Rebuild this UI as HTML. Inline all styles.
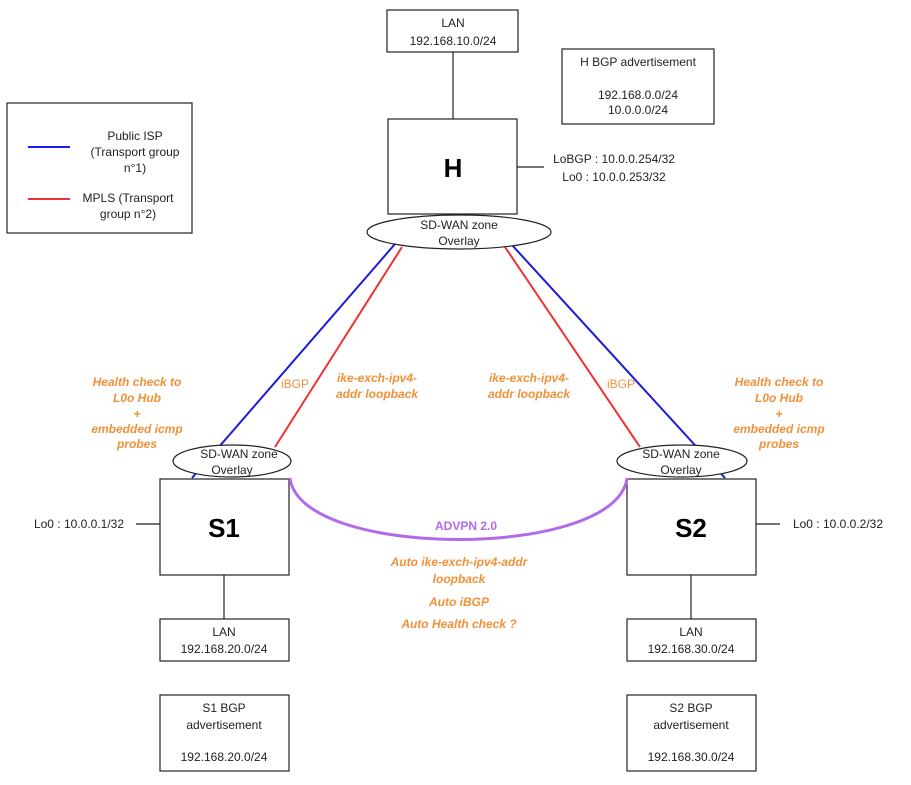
<!DOCTYPE html>
<html><head><style>body{margin:0;background:#fff}svg{display:block}text{font-family:"Liberation Sans",sans-serif}</style></head><body>
<svg width="911" height="785" viewBox="0 0 911 785" xmlns="http://www.w3.org/2000/svg">
<rect width="911" height="785" fill="#fff"/>
<g fill="none" stroke="#222" stroke-width="1.2">
<rect x="387" y="10" width="131" height="42"/>
<line x1="453" y1="52" x2="453" y2="119"/>
<rect x="388" y="119" width="129" height="95"/>
<rect x="562" y="49" width="152" height="75"/>
<rect x="7" y="103" width="185" height="130"/>
<rect x="160" y="479" width="129" height="96"/>
<rect x="627" y="479" width="129" height="96"/>
<rect x="160" y="619" width="129" height="42"/>
<rect x="627" y="619" width="129" height="42"/>
<rect x="160" y="695" width="129" height="76"/>
<rect x="627" y="695" width="129" height="76"/>
<line x1="224" y1="575" x2="224" y2="619"/>
<line x1="691" y1="575" x2="691" y2="619"/>
<line x1="136" y1="524" x2="160" y2="524"/>
<line x1="756" y1="524" x2="780" y2="524"/>
<line x1="517" y1="167" x2="544" y2="167"/>
</g>
<line x1="28" y1="147" x2="70" y2="147" stroke="#1a1aff" stroke-width="2"/>
<line x1="28" y1="199" x2="70" y2="199" stroke="#ee3333" stroke-width="2"/>
<g stroke-width="2">
<line x1="395" y1="244" x2="192" y2="478" stroke="#1a1add"/>
<line x1="402" y1="247" x2="275" y2="447" stroke="#ee3333"/>
<line x1="512" y1="245" x2="725" y2="478" stroke="#1a1add"/>
<line x1="505" y1="247" x2="640" y2="447" stroke="#ee3333"/>
</g>
<path d="M290,478 C300,560 617,560 627,478" fill="none" stroke="#b36ae8" stroke-width="3"/>
<g fill="#fff" stroke="#222" stroke-width="1.2">
<ellipse cx="459" cy="232" rx="92" ry="17"/>
<ellipse cx="232" cy="461" rx="59" ry="16"/>
<ellipse cx="682" cy="461" rx="65" ry="16"/>
</g>
<g font-size="12" fill="#222" text-anchor="middle">
<text x="453" y="27">LAN</text><text x="453" y="45">192.168.10.0/24</text>
<text x="638" y="66">H BGP advertisement</text>
<text x="638" y="99">192.168.0.0/24</text><text x="638" y="114">10.0.0.0/24</text>
<text x="135" y="140">Public ISP</text><text x="135" y="156">(Transport group</text><text x="135" y="172">n°1)</text>
<text x="128" y="202">MPLS  (Transport</text><text x="128" y="218">group n°2)</text>
<text x="614" y="163">LoBGP : 10.0.0.254/32</text><text x="614" y="181">Lo0 : 10.0.0.253/32</text>
<text x="459" y="229">SD-WAN zone</text><text x="459" y="245">Overlay</text>
<text x="239" y="458">SD-WAN zone</text><text x="232" y="474">Overlay</text>
<text x="681" y="458">SD-WAN zone</text><text x="681" y="474">Overlay</text>
<text x="79" y="528">Lo0 : 10.0.0.1/32</text>
<text x="838" y="528">Lo0 : 10.0.0.2/32</text>
<text x="224" y="636">LAN</text><text x="224" y="653">192.168.20.0/24</text>
<text x="691" y="636">LAN</text><text x="691" y="653">192.168.30.0/24</text>
<text x="224" y="712">S1 BGP</text><text x="224" y="729">advertisement</text><text x="224" y="761">192.168.20.0/24</text>
<text x="691" y="712">S2 BGP</text><text x="691" y="729">advertisement</text><text x="691" y="761">192.168.30.0/24</text>
</g>
<g font-size="26" font-weight="bold" fill="#000" text-anchor="middle">
<text x="453" y="177">H</text><text x="224" y="537">S1</text><text x="691" y="537">S2</text>
</g>
<g font-size="12" font-weight="bold" font-style="italic" fill="#f0913a" text-anchor="middle">
<text x="137" y="386">Health check to</text><text x="137" y="402">L0o Hub</text><text x="137" y="418">+</text><text x="137" y="433">embedded icmp</text><text x="137" y="448">probes</text>
<text x="779" y="386">Health check to</text><text x="779" y="402">L0o Hub</text><text x="779" y="418">+</text><text x="779" y="433">embedded icmp</text><text x="779" y="448">probes</text>
<text x="377" y="382">ike-exch-ipv4-</text><text x="377" y="398">addr loopback</text>
<text x="529" y="382">ike-exch-ipv4-</text><text x="529" y="398">addr loopback</text>
<text x="459" y="566">Auto ike-exch-ipv4-addr</text><text x="459" y="583">loopback</text>
<text x="459" y="606">Auto iBGP</text><text x="459" y="628">Auto Health check ?</text>
</g>
<g font-size="12" fill="#f0913a" text-anchor="middle">
<text x="295" y="388">iBGP</text><text x="621" y="388">iBGP</text>
</g>
<text x="466" y="530" font-size="12" font-weight="bold" fill="#b36ae8" text-anchor="middle">ADVPN 2.0</text>
</svg>
</body></html>
